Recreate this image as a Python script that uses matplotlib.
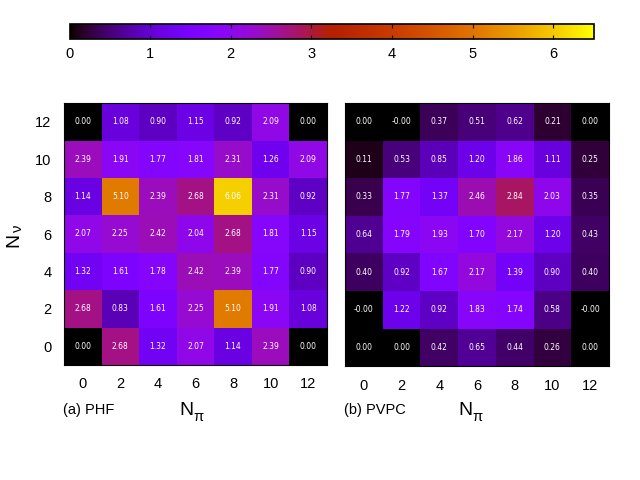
import numpy as np
import matplotlib
matplotlib.use("Agg")
import matplotlib.pyplot as plt
from matplotlib.colors import ListedColormap

plt.rcParams['font.family'] = ['Liberation Sans', 'DejaVu Sans']

n_pi = [0, 2, 4, 6, 8, 10, 12]
n_nu = [0, 2, 4, 6, 8, 10, 12]

# rows ordered from N_nu = 0 (bottom) to N_nu = 12 (top)
phf = np.array([
    [0.00, 2.68, 1.32, 2.07, 1.14, 2.39, 0.00],
    [2.68, 0.83, 1.61, 2.25, 5.10, 1.91, 1.08],
    [1.32, 1.61, 1.78, 2.42, 2.39, 1.77, 0.90],
    [2.07, 2.25, 2.42, 2.04, 2.68, 1.81, 1.15],
    [1.14, 5.10, 2.39, 2.68, 6.06, 2.31, 0.92],
    [2.39, 1.91, 1.77, 1.81, 2.31, 1.26, 2.09],
    [0.00, 1.08, 0.90, 1.15, 0.92, 2.09, 0.00],
])
pvpc = np.array([
    [0.00, 0.00, 0.42, 0.65, 0.44, 0.26, 0.00],
    [-0.0, 1.22, 0.92, 1.83, 1.74, 0.58, -0.0],
    [0.40, 0.92, 1.67, 2.17, 1.39, 0.90, 0.40],
    [0.64, 1.79, 1.93, 1.70, 2.17, 1.20, 0.43],
    [0.33, 1.77, 1.37, 2.46, 2.84, 2.03, 0.35],
    [0.11, 0.53, 0.85, 1.20, 1.86, 1.11, 0.25],
    [0.00, -0.0, 0.37, 0.51, 0.62, 0.21, 0.00],
])
panel_labels = ["(a) PHF", "(b) PVPC"]
cb_ticks = [0, 1, 2, 3, 4, 5, 6]
vmin, vmax = 0.0, 6.5

# gnuplot default palette (rgbformulae 7,5,15)
x = np.linspace(0, 1, 512)
r = np.sqrt(x)
g = x ** 3
b = np.clip(np.sin(2 * np.pi * x), 0, 1)
cmap = ListedColormap(np.column_stack([r, g, b]))

W, H = 640, 480
fig = plt.figure(figsize=(6.4, 4.8), dpi=100)

axes_rects = [
    [64 / W, 1 - 365 / H, 263 / W, 262 / H],
    [345 / W, 1 - 366 / H, 264 / W, 263 / H],
]
n_left = [179, 458]
panel_x = [63, 344]

im = None
for k, (data, rect) in enumerate(zip([phf, pvpc], axes_rects)):
    ax = fig.add_axes(rect)
    im = ax.imshow(data, cmap=cmap, vmin=vmin, vmax=vmax, origin='lower',
                   extent=[n_pi[0] - 1, n_pi[-1] + 1, n_nu[0] - 1, n_nu[-1] + 1],
                   aspect='auto', interpolation='nearest')
    for i, yv in enumerate(n_nu):
        for j, xv in enumerate(n_pi):
            ax.text(xv, yv, f"{data[i, j]:.2f}", ha='center', va='center',
                    color='white', fontsize=5.5, family='DejaVu Sans')
    ax.set_xticks(n_pi)
    ax.set_xticklabels([str(v) for v in n_pi], fontsize=10.5)
    ax.set_yticks(n_nu)
    if k == 0:
        ax.set_yticklabels([str(v) for v in n_nu], fontsize=10.5)
    else:
        ax.set_yticklabels([])
    ax.tick_params(length=0, pad=9)
    for s in ax.spines.values():
        s.set_linewidth(0.8)
    fig.text(panel_x[k] / W, 1 - 410 / H, panel_labels[k], fontsize=10.5,
             ha='left', va='center')
    fig.text(n_left[k] / W, 1 - 415 / H, "N", fontsize=14,
             ha='left', va='baseline')
    fig.text((n_left[k] + 14) / W, 1 - 421 / H, "π", fontsize=10.5,
             ha='left', va='baseline')

fig.text(18 / W, 1 - 247 / H, "N", fontsize=14, rotation=90,
         rotation_mode='anchor', ha='left', va='baseline')
fig.text(22 / W, 1 - 232 / H, "ν", fontsize=10.5, rotation=90,
         rotation_mode='anchor', ha='left', va='baseline')

cax = fig.add_axes([69.5 / W, 1 - 39 / H, 524 / W, 15 / H])
cb = fig.colorbar(im, cax=cax, orientation='horizontal', ticks=cb_ticks)
cb.ax.tick_params(direction='in', length=3, width=0.8, labelsize=10.5, pad=6,
                  top=True, bottom=True)
cb.ax.set_xticklabels([str(t) for t in cb_ticks])
cb.outline.set_linewidth(1.2)

fig.savefig("out.png", dpi=100)
